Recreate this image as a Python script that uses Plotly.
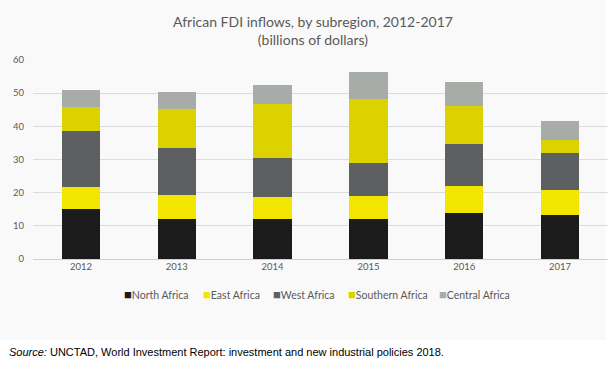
import plotly.graph_objects as go

years = ["2012", "2013", "2014", "2015", "2016", "2017"]
north_africa = [15.2, 12.2, 12.2, 12.2, 14.0, 13.2]
east_africa = [6.6, 7.0, 6.4, 6.9, 8.1, 7.6]
west_africa = [16.7, 14.3, 12.0, 9.8, 12.6, 11.3]
southern_africa = [7.2, 11.7, 16.2, 19.2, 11.4, 3.9]
central_africa = [5.3, 5.2, 5.6, 8.3, 7.2, 5.7]
y_ticks = [0, 10, 20, 30, 40, 50, 60]

series_names = ["North Africa", "East Africa", "West Africa", "Southern Africa", "Central Africa"]
series_values = [north_africa, east_africa, west_africa, southern_africa, central_africa]
series_colors = ["#1b1b1b", "#f2e600", "#5e5f61", "#dbd200", "#a8aca8"]

W, H = 610, 369
L, R, T, B = 33, 2, 60, 110
PW, PH = W - L - R, H - T - B


def px_x(px):
    return (px - L) / PW


def px_y(py):
    return (H - B - py) / PH


fig = go.Figure()
for name, vals, color in zip(series_names, series_values, series_colors):
    fig.add_trace(go.Bar(x=years, y=vals, name=name, showlegend=False,
                         marker=dict(color=color, line=dict(width=0))))

font_fam = "Lato, Open Sans, sans-serif"
legend_x = [123, 202, 272, 347, 438]
annotations = [dict(
    text="African FDI inflows, by subregion, 2012-2017<br>(billions of dollars)",
    xref="paper", yref="paper", x=px_x(313), y=px_y(30),
    xanchor="center", yanchor="middle", showarrow=False,
    font=dict(family=font_fam, size=14, color="#595959"))]
for name, color, lx in zip(series_names, series_colors, legend_x):
    annotations.append(dict(
        text=f"<span style='color:{color};font-size:13px'>■</span>{name}",
        xref="paper", yref="paper", x=px_x(lx - 1), y=px_y(294),
        xanchor="left", yanchor="middle", showarrow=False,
        font=dict(family=font_fam, size=10.5, color="#595959")))

annotations.append(dict(
    text="<i>Source:</i> UNCTAD, World Investment Report: investment and new industrial policies 2018.",
    xref="paper", yref="paper", x=px_x(7), y=px_y(352),
    xanchor="left", yanchor="middle", showarrow=False,
    font=dict(family="Liberation Sans, Arial, sans-serif", size=11, color="#000000")))

fig.update_layout(
    barmode="stack",
    bargap=0.6,
    width=W,
    height=H,
    margin=dict(l=L, r=R, t=T, b=B, autoexpand=False),
    paper_bgcolor="white",
    plot_bgcolor="rgba(0,0,0,0)",
    font=dict(family=font_fam, color="#595959", size=9.5),
    showlegend=False,
    xaxis=dict(showgrid=False, showline=False, ticks="", automargin=False,
               tickfont=dict(size=9.5)),
    yaxis=dict(range=[0, 60], tickvals=y_ticks, gridcolor="#dcdcdc", gridwidth=1,
               zeroline=True, zerolinecolor="#d0d0d0", zerolinewidth=1,
               showline=False, automargin=False, tickfont=dict(size=9.5),
               ticklabelstandoff=8),
    shapes=[dict(type="rect", xref="paper", yref="paper", x0=px_x(0), x1=px_x(606),
                 y0=px_y(340), y1=px_y(0), fillcolor="#f9f9f9",
                 line=dict(width=0), layer="below")],
    annotations=annotations,
)

fig.write_html("out.html", config={"displayModeBar": False},
               post_script="document.body.style.margin='0';")
